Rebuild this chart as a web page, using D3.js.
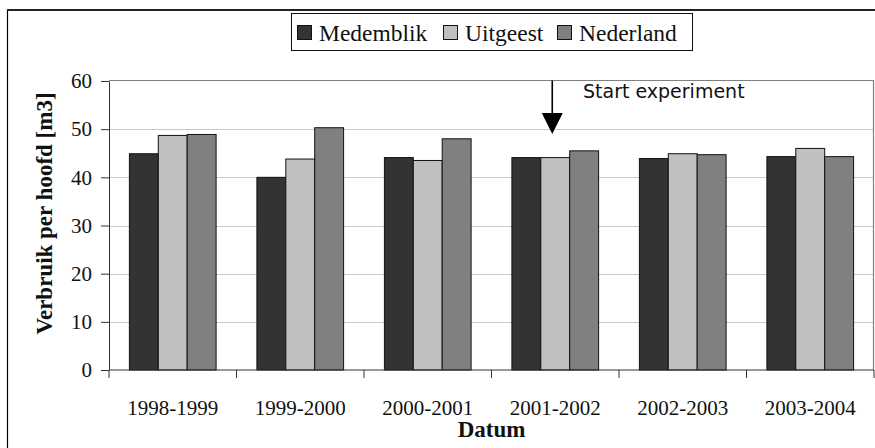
<!DOCTYPE html>
<html>
<head>
<meta charset="utf-8">
<script src="https://cdn.jsdelivr.net/npm/d3@7"></script>
<style>
  html, body { margin: 0; padding: 0; background: #fff; }
  svg { display: block; }
</style>
</head>
<body>
<svg id="chart" width="875" height="448"></svg>
<script>
const categories = ["1998-1999", "1999-2000", "2000-2001", "2001-2002", "2002-2003", "2003-2004"];
const seriesNames = ["Medemblik", "Uitgeest", "Nederland"];
const medemblik = [44.9, 40.0, 44.1, 44.1, 43.9, 44.3];
const uitgeest  = [48.7, 43.8, 43.5, 44.1, 44.9, 46.0];
const nederland = [48.9, 50.3, 48.0, 45.5, 44.7, 44.3];
const yTicks = [0, 10, 20, 30, 40, 50, 60];
const seriesColors = ["#333333", "#c0c0c0", "#808080"];
const annotationText = "Start experiment";
const annotationCategory = "2001-2002";

const seriesValues = [medemblik, uitgeest, nederland];
const svg = d3.select("#chart");

const plot = { left: 109, right: 874, top: 81, bottom: 370 };
const serif = "'Liberation Serif', 'Times New Roman', serif";

// outer frame
svg.append("line").attr("x1", 7.5).attr("x2", 7.5).attr("y1", 10).attr("y2", 448)
  .attr("stroke", "#000").attr("stroke-width", 1.2);
svg.append("line").attr("x1", 7).attr("x2", 875).attr("y1", 10).attr("y2", 10)
  .attr("stroke", "#222").attr("stroke-width", 2);

const x = d3.scaleBand().domain(categories).range([plot.left, plot.right])
  .paddingInner(0.32).paddingOuter(0.16);
const xs = d3.scaleBand().domain(seriesNames).range([0, x.bandwidth()]);
const y = d3.scaleLinear().domain([0, 60]).range([plot.bottom, plot.top]);
const step = x.step();

// gridlines
svg.append("g").selectAll("line").data(yTicks.filter(t => t > 0 && t < 60)).join("line")
  .attr("x1", plot.left).attr("x2", plot.right)
  .attr("y1", d => Math.round(y(d)) + 0.5).attr("y2", d => Math.round(y(d)) + 0.5)
  .attr("stroke", "#c8c8c8").attr("stroke-width", 1);
// plot frame (top + right)
svg.append("line").attr("x1", plot.left).attr("x2", plot.right - 0.5)
  .attr("y1", Math.round(y(60)) - 0.5).attr("y2", Math.round(y(60)) - 0.5)
  .attr("stroke", "#808080").attr("stroke-width", 1.2);
svg.append("line").attr("x1", plot.right - 0.5).attr("x2", plot.right - 0.5)
  .attr("y1", y(60) - 1).attr("y2", plot.bottom)
  .attr("stroke", "#808080").attr("stroke-width", 1.2);

// bars
const groups = svg.append("g").selectAll("g").data(categories).join("g")
  .attr("transform", d => `translate(${x(d)},0)`);
groups.selectAll("rect").data((c, i) => seriesNames.map((s, k) => ({ s, k, v: seriesValues[k][i] })))
  .join("rect")
  .attr("x", d => xs(d.s))
  .attr("width", xs.bandwidth())
  .attr("y", d => y(d.v))
  .attr("height", d => y(0) - y(d.v))
  .attr("fill", d => seriesColors[d.k])
  .attr("stroke", "#111").attr("stroke-width", 1);

// y axis
const yAxis = svg.append("g").attr("transform", `translate(${plot.left},0)`)
  .call(d3.axisLeft(y).tickValues(yTicks).tickSize(8).tickPadding(9).tickSizeOuter(0));
yAxis.select(".domain").attr("stroke", "#333");
yAxis.selectAll(".tick line").attr("stroke", "#333");
yAxis.selectAll("text").attr("font-family", serif).attr("font-size", 21).attr("fill", "#111");

// x axis with boundary ticks
const xAxisG = svg.append("g");
xAxisG.append("line").attr("x1", plot.left).attr("x2", plot.right)
  .attr("y1", y(0)).attr("y2", y(0)).attr("stroke", "#333");
const bounds = d3.range(categories.length + 1).map(i => plot.left + i * step);
xAxisG.selectAll("line.tk").data(bounds).join("line").attr("class", "tk")
  .attr("x1", d => d).attr("x2", d => d).attr("y1", y(0)).attr("y2", y(0) + 8)
  .attr("stroke", "#333");
xAxisG.selectAll("text").data(categories).join("text")
  .attr("x", d => x(d) + x.bandwidth() / 2).attr("y", 415)
  .attr("text-anchor", "middle")
  .attr("font-family", serif).attr("font-size", 21).attr("fill", "#111")
  .text(d => d);

// axis titles
svg.append("text").attr("x", (plot.left + plot.right) / 2).attr("y", 437)
  .attr("text-anchor", "middle").attr("font-family", serif).attr("font-weight", "bold")
  .attr("font-size", 23).attr("fill", "#111").text("Datum");
svg.append("text").attr("transform", "translate(52,213.5) rotate(-90)")
  .attr("text-anchor", "middle").attr("font-family", serif).attr("font-weight", "bold")
  .attr("font-size", 23).attr("fill", "#111").text("Verbruik per hoofd [m3]");

// legend
const lg = svg.append("g");
lg.append("rect").attr("x", 291.5).attr("y", 13.5).attr("width", 401).attr("height", 37)
  .attr("fill", "#fff").attr("stroke", "#111").attr("stroke-width", 1);
const legendX = [297, 443, 557];
seriesNames.forEach((s, k) => {
  lg.append("rect").attr("x", legendX[k] + 0.5).attr("y", 25.5).attr("width", 14).attr("height", 14)
    .attr("fill", seriesColors[k]).attr("stroke", "#111").attr("stroke-width", 1);
  lg.append("text").attr("x", legendX[k] + 22).attr("y", 41)
    .attr("font-family", serif).attr("font-size", 23.5).attr("fill", "#111").text(s);
});

// annotation arrow
const ax = x(annotationCategory) + x.bandwidth() / 2 - 3;
svg.append("line").attr("x1", ax).attr("x2", ax).attr("y1", plot.top - 0.5).attr("y2", 115)
  .attr("stroke", "#000").attr("stroke-width", 1.6);
svg.append("path").attr("d", `M${ax - 10.5},113 L${ax + 10.5},113 L${ax},134 Z`).attr("fill", "#000");
svg.append("text").attr("x", 583).attr("y", 98)
  .attr("font-family", "'DejaVu Sans', Verdana, sans-serif").attr("font-size", 19)
  .attr("fill", "#111").text(annotationText);
</script>
</body>
</html>
